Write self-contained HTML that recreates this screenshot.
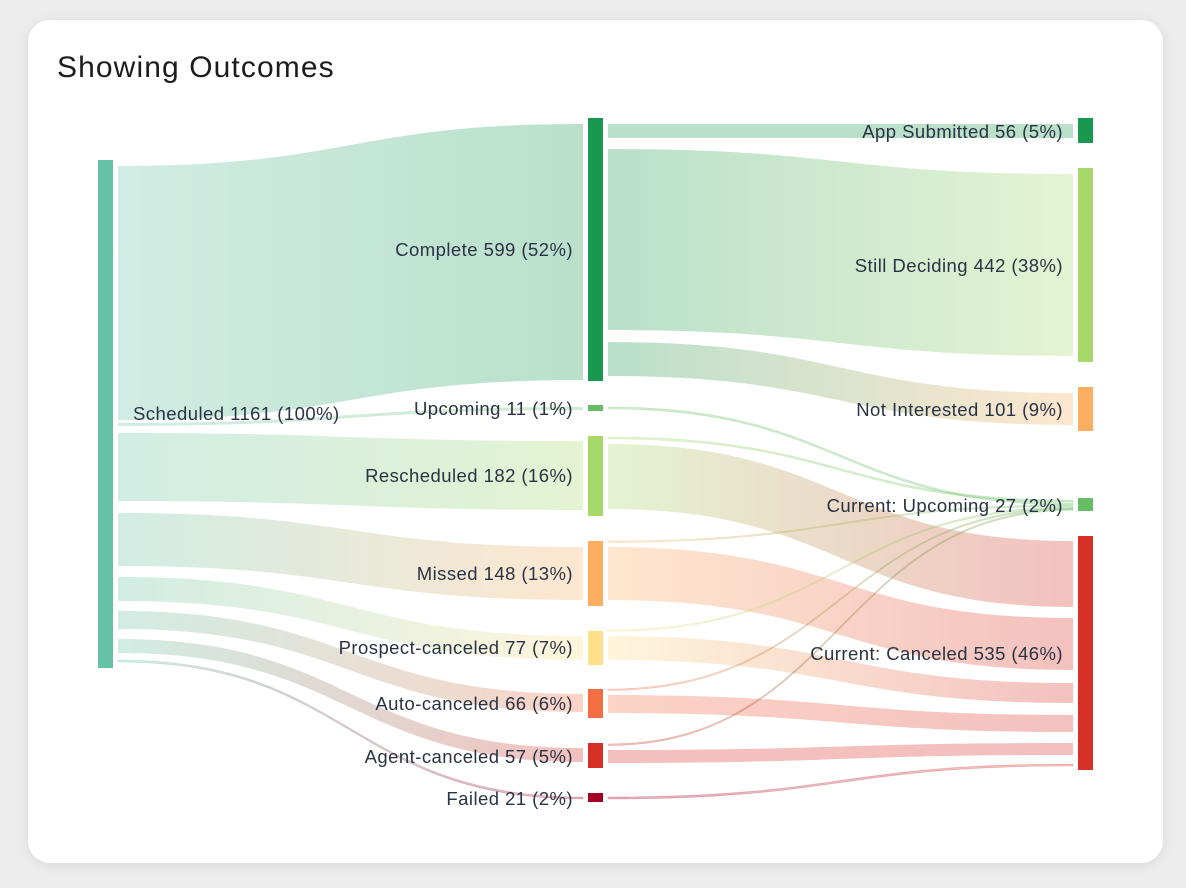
<!DOCTYPE html>
<html><head><meta charset="utf-8"><style>
html,body{margin:0;padding:0;background:#ececec;width:1186px;height:888px;overflow:hidden}
.card{position:absolute;left:28px;top:20px;width:1135px;height:843px;background:#fff;border-radius:22px;box-shadow:0 2px 12px rgba(0,0,0,0.08)}
h1{position:absolute;left:57px;top:51px;margin:0;font:500 30px "Liberation Sans",sans-serif;letter-spacing:1.1px;color:#1c1c1c}
svg{position:absolute;left:0;top:0}
text{font-family:"Liberation Sans",sans-serif;font-size:18.5px;letter-spacing:0.45px;fill:#2a3344}
</style></head><body>
<div class="card"></div>
<h1>Showing Outcomes</h1>
<svg id="s" width="1186" height="888">
<g id="links"></g>
<g>
<rect x="98" y="160" width="15" height="508" fill="#66c2a5"/>
<rect x="588" y="118" width="15" height="263" fill="#1a9850"/>
<rect x="588" y="405" width="15" height="6" fill="#66bd63"/>
<rect x="588" y="436" width="15" height="80" fill="#a6d96a"/>
<rect x="588" y="541" width="15" height="65" fill="#fdae61"/>
<rect x="588" y="631" width="15" height="34" fill="#fee08b"/>
<rect x="588" y="689" width="15" height="29" fill="#f46d43"/>
<rect x="588" y="743" width="15" height="25" fill="#d73027"/>
<rect x="588" y="793" width="15" height="9" fill="#a50026"/>
<rect x="1078" y="118" width="15" height="25" fill="#1a9850"/>
<rect x="1078" y="168" width="15" height="194" fill="#a6d96a"/>
<rect x="1078" y="387" width="15" height="44" fill="#fdae61"/>
<rect x="1078" y="498" width="15" height="13" fill="#66bd63"/>
<rect x="1078" y="536" width="15" height="234" fill="#d73027"/>
</g>
<g>
<text x="133" y="420">Scheduled 1161 (100%)</text>
<g text-anchor="end">
<text x="573" y="256">Complete 599 (52%)</text>
<text x="573" y="415">Upcoming 11 (1%)</text>
<text x="573" y="482">Rescheduled 182 (16%)</text>
<text x="573" y="580">Missed 148 (13%)</text>
<text x="573" y="654">Prospect-canceled 77 (7%)</text>
<text x="573" y="710">Auto-canceled 66 (6%)</text>
<text x="573" y="763">Agent-canceled 57 (5%)</text>
<text x="573" y="805">Failed 21 (2%)</text>
<text x="1063" y="138">App Submitted 56 (5%)</text>
<text x="1063" y="272">Still Deciding 442 (38%)</text>
<text x="1063" y="416">Not Interested 101 (9%)</text>
<text x="1063" y="512">Current: Upcoming 27 (2%)</text>
<text x="1063" y="660">Current: Canceled 535 (46%)</text>
</g></g>
</svg>
<script>
var C={sch:"#66c2a5",comp:"#1a9850",up:"#66bd63",res:"#a6d96a",mis:"#fdae61",pro:"#fee08b",aut:"#f46d43",age:"#d73027",fai:"#a50026",app:"#1a9850",sti:"#a6d96a",not:"#fdae61",cup:"#66bd63",can:"#d73027"};
var L=[
["sch","comp",118,583,166,420,124,380],
["sch","up",118,583,423,426,407,410],
["sch","res",118,583,433,501,441,510],
["sch","mis",118,583,513,566,547,600],
["sch","pro",118,583,577,601,636,660],
["sch","aut",118,583,611,629,694,712],
["sch","age",118,583,639,653,748,762],
["sch","fai",118,583,660,662,797,799],
["comp","app",608,1073,124,138,124,138],
["comp","sti",608,1073,149,330,174,356],
["comp","not",608,1073,342,376,393,425],
["up","cup",608,1073,407,409,503,505],
["res","cup",608,1073,437,439,500,502],
["res","can",608,1073,444,509,541,607],
["mis","cup",608,1073,541,542.5,505,506.5],
["mis","can",608,1073,547,600,618,670],
["pro","cup",608,1073,630,631.5,507,508.5],
["pro","can",608,1073,636,660,683,703],
["aut","cup",608,1073,689,690.5,508,509.5],
["aut","can",608,1073,695,713,715,732],
["age","cup",608,1073,744,745.5,509,510.5],
["age","can",608,1073,750,763,743,755],
["fai","can",608,1073,797,799,764,766]];
var ns="http://www.w3.org/2000/svg",s=document.getElementById("s"),g=document.getElementById("links");
var defs=document.createElementNS(ns,"defs");s.insertBefore(defs,s.firstChild);
L.forEach(function(l,i){
 var gr=document.createElementNS(ns,"linearGradient");gr.id="g"+i;gr.setAttribute("gradientUnits","userSpaceOnUse");
 gr.setAttribute("x1",l[2]);gr.setAttribute("x2",l[3]);gr.setAttribute("y1",0);gr.setAttribute("y2",0);
 gr.innerHTML='<stop offset="0" stop-color="'+C[l[0]]+'"/><stop offset="1" stop-color="'+C[l[1]]+'"/>';
 defs.appendChild(gr);
 var x0=l[2],x1=l[3],m=(x0+x1)/2;
 var d="M"+x0+","+l[4]+"C"+m+","+l[4]+" "+m+","+l[6]+" "+x1+","+l[6]+"L"+x1+","+l[7]+"C"+m+","+l[7]+" "+m+","+l[5]+" "+x0+","+l[5]+"Z";
 var p=document.createElementNS(ns,"path");p.setAttribute("d",d);p.setAttribute("fill","url(#g"+i+")");
 p.setAttribute("fill-opacity","0.3");
 if(l[5]-l[4]<3){p.setAttribute("stroke","url(#g"+i+")");p.setAttribute("stroke-opacity","0.3");p.setAttribute("stroke-width","0.6");}
 g.appendChild(p);
});
</script>
</body></html>
